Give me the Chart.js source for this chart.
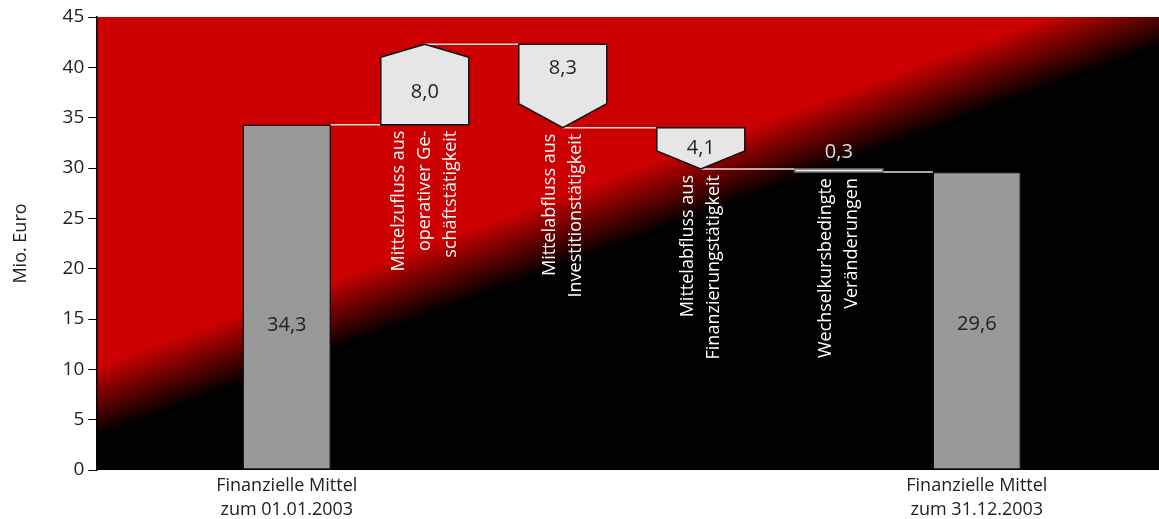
<!DOCTYPE html>
<html>
<head>
<meta charset="utf-8">
<script src="https://cdn.jsdelivr.net/npm/chart.js@4.4.1/dist/chart.umd.min.js"></script>
<style>
  body { margin: 0; background: #fff; }
  #wrap { width: 1159px; height: 519px; }
</style>
</head>
<body>
<div id="wrap"><canvas id="cashChart"></canvas></div>
<script>
// data
const amounts = [34.3, 8.0, -8.3, -4.1, -0.3, 29.6];
const isTotal = [true, false, false, false, false, true];
const valueTexts = ['34,3', '8,0', '8,3', '4,1', '0,3', '29,6'];
const bottomLabels = [
  ['Finanzielle Mittel', 'zum 01.01.2003'], [], [], [], [],
  ['Finanzielle Mittel', 'zum 31.12.2003']
];
const stepLabels = [
  [],
  ['Mittelzufluss aus', 'operativer Ge-', 'schäftstätigkeit'],
  ['Mittelabfluss aus', 'Investitionstätigkeit'],
  ['Mittelabfluss aus', 'Finanzierungstätigkeit'],
  ['Wechselkursbedingte', 'Veränderungen'],
  []
];
const yTicks = [0, 5, 10, 15, 20, 25, 30, 35, 40, 45];

// looks
const tipPx = [0, 13, 24, 18, 0, 0];
const labelFrac = [0.58, 0.6, 0.29, 0.5, null, 0.51];
const FONT = '"Open Sans", "Noto Sans", sans-serif';

// build floating ranges [from, to]
let running = 0;
const ranges = amounts.map((a, i) => {
  if (isTotal[i]) { running = a; return [0, a]; }
  const from = running;
  running = +(running + a).toFixed(2);
  return [from, running];
});
const points = ranges.map((r, i) => ({ x: i, y: [Math.min(r[0], r[1]), Math.max(r[0], r[1])] }));

//background gradient
const bgPlugin = {
  id: 'bg',
  beforeDraw(chart) {
    const { ctx, chartArea: a } = chart;
    // transition line roughly from lower left to upper right
    const cx = a.left, cy = a.top + (a.bottom - a.top) * 0.85;
    const nx = 0.345, ny = 0.939, h = 33;
    const g = ctx.createLinearGradient(cx - nx * h, cy - ny * h, cx + nx * h, cy + ny * h);
    g.addColorStop(0, '#cc0000');
    g.addColorStop(1, '#000000');
    ctx.save();
    ctx.fillStyle = g;
    ctx.fillRect(a.left, a.top, a.right - a.left, a.bottom - a.top);
    ctx.restore();
  }
};

// arrows, connectors, labels
const stepPlugin = {
  id: 'steps',
  afterDatasetsDraw(chart) {
    const { ctx } = chart;
    const ys = chart.scales.y;
    const bars = chart.getDatasetMeta(0).data;
    ctx.save();

    // connector lines
    ctx.strokeStyle = '#e0e0e0';
    ctx.lineWidth = 1.5;
    for (let i = 0; i < bars.length - 1; i++) {
      const end = ranges[i][1];
      const py = ys.getPixelForValue(end);
      const b = bars[i], n = bars[i + 1];
      let sx = b.x + b.width / 2;
      if (!isTotal[i] && i !== 4) sx = b.x;
      ctx.beginPath();
      ctx.moveTo(sx, py);
      ctx.lineTo(n.x - n.width / 2, py);
      ctx.stroke();
    }

    // step shapes
    for (let i = 0; i < bars.length; i++) {
      if (isTotal[i]) continue;
      const b = bars[i];
      const L = b.x - b.width / 2, R = b.x + b.width / 2;
      const p0 = ys.getPixelForValue(ranges[i][0]);
      const p1 = ys.getPixelForValue(ranges[i][1]);
      const t = tipPx[i];
      ctx.beginPath();
      if (t === 0) {
        ctx.rect(L, Math.min(p0, p1), R - L, Math.max(2.5, Math.abs(p1 - p0)));
      } else if (amounts[i] > 0) {
        ctx.moveTo(L, p0); ctx.lineTo(L, p1 + t); ctx.lineTo(b.x, p1);
        ctx.lineTo(R, p1 + t); ctx.lineTo(R, p0);
      } else {
        ctx.moveTo(L, p0); ctx.lineTo(R, p0); ctx.lineTo(R, p1 - t);
        ctx.lineTo(b.x, p1); ctx.lineTo(L, p1 - t);
      }
      ctx.closePath();
      ctx.fillStyle = '#e6e6e6';
      ctx.fill();
      ctx.strokeStyle = t === 0 ? '#777' : '#111';
      ctx.lineWidth = 1.5;
      ctx.stroke();
    }

    // value labels
    ctx.font = '20px ' + FONT;
    ctx.textAlign = 'center';
    ctx.textBaseline = 'middle';
    for (let i = 0; i < bars.length; i++) {
      const b = bars[i];
      const top = ys.getPixelForValue(Math.max(...ranges[i]));
      const bot = ys.getPixelForValue(Math.min(...ranges[i]));
      if (labelFrac[i] === null) {
        ctx.fillStyle = '#dddddd';
        ctx.fillText(valueTexts[i], b.x, top - 17);
      } else {
        ctx.fillStyle = '#222';
        ctx.fillText(valueTexts[i], b.x, top + (bot - top) * labelFrac[i]);
      }
    }

    // rotated step labels
    ctx.font = '18px ' + FONT;
    ctx.fillStyle = '#ffffff';
    ctx.textAlign = 'right';
    for (let i = 0; i < bars.length; i++) {
      const lines = stepLabels[i];
      if (!lines.length) continue;
      const b = bars[i];
      const low = ys.getPixelForValue(Math.min(...ranges[i]));
      ctx.save();
      ctx.translate(b.x, low + 6);
      ctx.rotate(-Math.PI / 2);
      lines.forEach((ln, k) => {
        ctx.fillText(ln, 0, (k - (lines.length - 1) / 2) * 26);
      });
      ctx.restore();
    }
    ctx.restore();
  }
};

const ctx = document.getElementById('cashChart').getContext('2d');
const myChart = new Chart(ctx, {
  type: 'bar',
  data: {
    datasets: [{
      data: points,
      backgroundColor: isTotal.map(t => t ? '#999999' : 'rgba(0,0,0,0)'),
      borderColor: isTotal.map(t => t ? '#111111' : 'rgba(0,0,0,0)'),
      borderWidth: isTotal.map(t => t ? 1.5 : 0),
      borderSkipped: false,
      barThickness: 88
    }]
  },
  options: {
    responsive: true,
    maintainAspectRatio: false,
    animation: false,
    layout: { padding: { top: 17, right: 0, bottom: -7, left: 6 } },
    scales: {
      x: {
        type: 'linear',
        offset: false,
        min: -1.38,
        max: 6.32,
        grid: { display: false, offset: false, drawTicks: false, tickLength: 0 },
        border: { display: false },
        afterBuildTicks: (scale) => { scale.ticks = [{ value: 0 }, { value: 5 }]; },
        ticks: {
          autoSkip: false,
          maxRotation: 0,
          padding: 4,
          color: '#222',
          font: { family: FONT, size: 18, lineHeight: 1.333 },
          callback: (v) => bottomLabels[v] || ''
        }
      },
      y: {
        min: 0,
        max: 45,
        afterBuildTicks: (scale) => { scale.ticks = yTicks.map(v => ({ value: v })); },
        grid: { drawOnChartArea: false, drawTicks: true, tickLength: 8, color: '#000' },
        border: { display: true, color: '#000', width: 1.5 },
        ticks: { padding: 4, color: '#222', font: { family: FONT, size: 19 } },
        title: {
          display: true,
          text: 'Mio. Euro',
          color: '#222',
          font: { family: FONT, size: 18 },
          padding: { top: 4, bottom: 27 }
        }
      }
    },
    plugins: {
      legend: { display: false },
      tooltip: { enabled: false }
    }
  },
  plugins: [bgPlugin, stepPlugin]
});
</script>
</body>
</html>
